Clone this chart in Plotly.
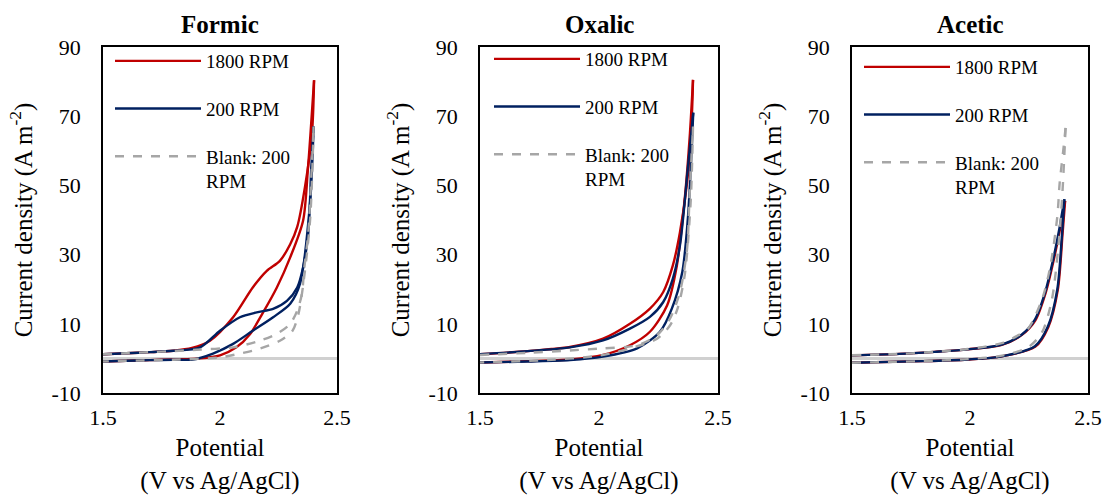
import plotly.graph_objects as go

FONT = "Liberation Serif"
RED = "#C00000"
NAVY = "#002060"
GRAY = "#A6A6A6"

panels = ["Formic", "Oxalic", "Acetic"]
series_names = ["1800 RPM", "200 RPM", "Blank: 200<br>RPM"]

# ---- Formic ----
formic_1800_fwd_v = [1.50, 1.60, 1.70, 1.80, 1.88, 1.957, 2.056, 2.14, 2.20, 2.256, 2.30, 2.33, 2.363, 2.393, 2.402]
formic_1800_fwd_j = [1.2, 1.5, 1.8, 2.2, 3.0, 5.1, 11.9, 20.5, 25.3, 28.2, 33.0, 38.0, 49.5, 65.0, 80.4]
formic_1800_rev_v = [2.402, 2.376, 2.355, 2.30, 2.243, 2.18, 2.128, 2.07, 2.00, 1.915, 1.80, 1.70, 1.60, 1.50]
formic_1800_rev_j = [80.4, 55.0, 39.8, 29.2, 20.5, 12.8, 7.0, 3.2, 0.9, 0.0, -0.3, -0.5, -0.7, -0.9]
formic_200_fwd_v = [1.50, 1.60, 1.70, 1.80, 1.915, 2.00, 2.085, 2.157, 2.227, 2.286, 2.33, 2.355, 2.377, 2.39, 2.40]
formic_200_fwd_j = [1.2, 1.5, 1.8, 2.2, 3.2, 8.0, 11.9, 13.3, 14.3, 16.6, 20.5, 26.3, 36.0, 55.0, 67.0]
formic_200_rev_v = [2.40, 2.385, 2.342, 2.30, 2.227, 2.14, 2.056, 1.97, 1.885, 1.80, 1.70, 1.60, 1.50]
formic_200_rev_j = [67.0, 45.0, 21.6, 15.8, 11.9, 8.0, 4.2, 1.4, -0.3, -0.4, -0.5, -0.7, -0.9]
formic_blank_fwd_v = [1.50, 1.60, 1.70, 1.80, 1.90, 2.056, 2.17, 2.243, 2.30, 2.33, 2.35, 2.36, 2.377, 2.39, 2.40]
formic_blank_fwd_j = [1.2, 1.5, 1.8, 2.1, 2.5, 3.2, 5.1, 7.1, 10.0, 13.8, 18.7, 26.0, 36.0, 52.0, 67.0]
formic_blank_rev_v = [2.40, 2.385, 2.355, 2.335, 2.31, 2.256, 2.17, 2.085, 2.00, 1.80, 1.60, 1.50]
formic_blank_rev_j = [67.0, 40.0, 21.0, 12.8, 8.0, 5.1, 2.8, 1.4, 0.3, -0.4, -0.7, -0.9]

# ---- Oxalic ----
oxalic_1800_fwd_v = [1.50, 1.60, 1.70, 1.80, 1.878, 2.017, 2.13, 2.214, 2.27, 2.31, 2.34, 2.37, 2.39, 2.395]
oxalic_1800_fwd_j = [1.2, 1.6, 2.1, 2.7, 3.3, 5.7, 10.0, 14.4, 19.2, 26.8, 36.4, 50.8, 70.0, 80.5]
oxalic_1800_rev_v = [2.395, 2.382, 2.36, 2.327, 2.286, 2.214, 2.13, 2.017, 1.878, 1.70, 1.50]
oxalic_1800_rev_j = [80.5, 65.0, 46.0, 26.8, 15.3, 7.7, 3.8, 1.0, -0.3, -0.8, -1.2]
oxalic_200_fwd_v = [1.50, 1.70, 1.878, 2.017, 2.13, 2.214, 2.27, 2.31, 2.34, 2.374, 2.396]
oxalic_200_fwd_j = [1.2, 2.1, 3.2, 5.2, 8.6, 12.0, 16.3, 23.0, 32.6, 55.5, 71.0]
oxalic_200_rev_v = [2.396, 2.374, 2.35, 2.306, 2.256, 2.16, 2.017, 1.878, 1.70, 1.50]
oxalic_200_rev_j = [71.0, 41.0, 25.0, 14.4, 7.7, 2.9, 0.5, -0.5, -0.9, -1.2]
oxalic_blank_fwd_v = [1.50, 1.70, 1.878, 2.017, 2.16, 2.244, 2.298, 2.34, 2.37, 2.38, 2.395]
oxalic_blank_fwd_j = [1.0, 1.6, 2.3, 2.9, 3.8, 6.7, 11.5, 19.2, 31.6, 46.0, 67.0]
oxalic_blank_rev_v = [2.395, 2.385, 2.36, 2.33, 2.298, 2.244, 2.13, 2.00, 1.80, 1.50]
oxalic_blank_rev_j = [67.0, 45.0, 24.0, 14.4, 9.5, 5.7, 2.9, 0.8, -0.4, -1.2]

# ---- Acetic ----
acetic_1800_fwd_v = [1.50, 1.70, 1.85, 1.99, 2.135, 2.22, 2.277, 2.32, 2.354, 2.382, 2.403]
acetic_1800_fwd_j = [0.9, 1.3, 1.9, 2.6, 3.9, 6.8, 11.0, 18.8, 28.2, 37.6, 45.5]
acetic_1800_rev_v = [2.403, 2.392, 2.372, 2.332, 2.277, 2.135, 1.99, 1.80, 1.50]
acetic_1800_rev_j = [45.5, 35.8, 19.8, 9.1, 3.4, 0.6, -0.3, -0.8, -1.25]
acetic_200_fwd_v = [1.50, 1.70, 1.85, 1.99, 2.135, 2.22, 2.275, 2.318, 2.352, 2.38, 2.40]
acetic_200_fwd_j = [0.9, 1.3, 1.9, 2.6, 4.0, 6.9, 11.2, 19.0, 28.5, 38.0, 46.0]
acetic_200_rev_v = [2.40, 2.39, 2.37, 2.33, 2.275, 2.135, 1.99, 1.80, 1.50]
acetic_200_rev_j = [46.0, 36.0, 20.0, 9.2, 3.5, 0.6, -0.3, -0.8, -1.25]
acetic_blank_fwd_v = [1.50, 1.70, 1.85, 1.99, 2.135, 2.20, 2.246, 2.305, 2.34, 2.37, 2.38, 2.395, 2.405]
acetic_blank_fwd_j = [0.9, 1.3, 1.9, 2.7, 4.4, 6.5, 8.6, 17.0, 26.5, 41.0, 50.7, 60.0, 66.6]
acetic_blank_rev_v = [2.405, 2.39, 2.373, 2.347, 2.305, 2.246, 2.135, 1.99, 1.80, 1.50]
acetic_blank_rev_j = [66.6, 46.0, 31.4, 17.0, 7.5, 3.2, 0.8, -0.2, -0.8, -1.25]

data = {
    "Formic": [
        (formic_1800_fwd_v, formic_1800_fwd_j, formic_1800_rev_v, formic_1800_rev_j),
        (formic_200_fwd_v, formic_200_fwd_j, formic_200_rev_v, formic_200_rev_j),
        (formic_blank_fwd_v, formic_blank_fwd_j, formic_blank_rev_v, formic_blank_rev_j),
    ],
    "Oxalic": [
        (oxalic_1800_fwd_v, oxalic_1800_fwd_j, oxalic_1800_rev_v, oxalic_1800_rev_j),
        (oxalic_200_fwd_v, oxalic_200_fwd_j, oxalic_200_rev_v, oxalic_200_rev_j),
        (oxalic_blank_fwd_v, oxalic_blank_fwd_j, oxalic_blank_rev_v, oxalic_blank_rev_j),
    ],
    "Acetic": [
        (acetic_1800_fwd_v, acetic_1800_fwd_j, acetic_1800_rev_v, acetic_1800_rev_j),
        (acetic_200_fwd_v, acetic_200_fwd_j, acetic_200_rev_v, acetic_200_rev_j),
        (acetic_blank_fwd_v, acetic_blank_fwd_j, acetic_blank_rev_v, acetic_blank_rev_j),
    ],
}

x_ticks = [1.5, 2, 2.5]
x_tick_text = ["1.5", "2", "2.5"]
y_ticks = [-10, 10, 30, 50, 70, 90]
y_tick_text = ["-10", "10", "30", "50", "70", "90"]

W, H = 1103, 495
x_dom_px = [(103, 337), (480, 718), (852, 1088)]
y_dom_px = (47, 393)
legend_px = [(110, 42), (489, 40), (859, 48)]

styles = [
    dict(color=RED, width=2.4),
    dict(color=NAVY, width=2.4),
    dict(color=GRAY, width=2.4, dash="dash"),
]

fig = go.Figure()
layout = dict(
    width=W, height=H,
    margin=dict(l=0, r=0, t=0, b=0),
    paper_bgcolor="white", plot_bgcolor="white",
    font=dict(family=FONT, color="black"),
    showlegend=True,
    annotations=[],
)

for p, name in enumerate(panels):
    sfx = "" if p == 0 else str(p + 1)
    leg = "legend" + sfx
    for s, (fv, fj, rv, rj) in enumerate(data[name]):
        grp = f"{name}-{s}"
        for k, (vv, jj) in enumerate([(fv, fj), (rv, rj)]):
            fig.add_trace(go.Scatter(
                x=vv, y=jj, mode="lines", name=series_names[s],
                line=dict(shape="spline", smoothing=0.8, **styles[s]),
                xaxis="x" + sfx, yaxis="y" + sfx,
                legend=leg, legendgroup=grp, showlegend=(k == 0),
                hoverinfo="skip",
            ))
    x0, x1 = x_dom_px[p]
    layout["xaxis" + sfx] = dict(
        domain=[x0 / W, x1 / W], anchor="y" + sfx, range=[1.5, 2.5],
        tickvals=x_ticks, ticktext=x_tick_text,
        showline=True, mirror=True, linecolor="black", linewidth=1.5,
        showgrid=False, zeroline=False, ticks="", ticklabelstandoff=4,
        tickfont=dict(size=22, family=FONT),
        title=dict(text="Potential<br>(V vs Ag/AgCl)", font=dict(size=25, family=FONT), standoff=18),
        automargin=False,
    )
    layout["yaxis" + sfx] = dict(
        domain=[1 - y_dom_px[1] / H, 1 - y_dom_px[0] / H], anchor="x" + sfx,
        range=[-10, 90], tickvals=y_ticks, ticktext=y_tick_text,
        showline=True, mirror=True, linecolor="black", linewidth=1.5,
        showgrid=False, zeroline=True, zerolinecolor="#D0D0D0", zerolinewidth=2.5,
        ticks="", ticklabelstandoff=16,
        tickfont=dict(size=22, family=FONT),
        title=dict(text="Current density (A m<sup>-2</sup>)", font=dict(size=25, family=FONT), standoff=12),
        automargin=False,
    )
    lx, ly = legend_px[p]
    layout[leg] = dict(
        x=lx / W, y=1 - ly / H, xanchor="left", yanchor="top",
        font=dict(size=19, family=FONT), itemwidth=86,
        tracegroupgap=20, traceorder="grouped", valign="top",
        bgcolor="rgba(0,0,0,0)", borderwidth=0,
    )
    layout["annotations"].append(dict(
        text=f"<b>{name}</b>", x=(x0 + x1) / 2 / W, y=1 - 25 / H,
        xref="paper", yref="paper", xanchor="center", yanchor="middle",
        showarrow=False, font=dict(size=25, family=FONT),
    ))

fig.update_layout(**layout)
fig.write_html("out.html")
